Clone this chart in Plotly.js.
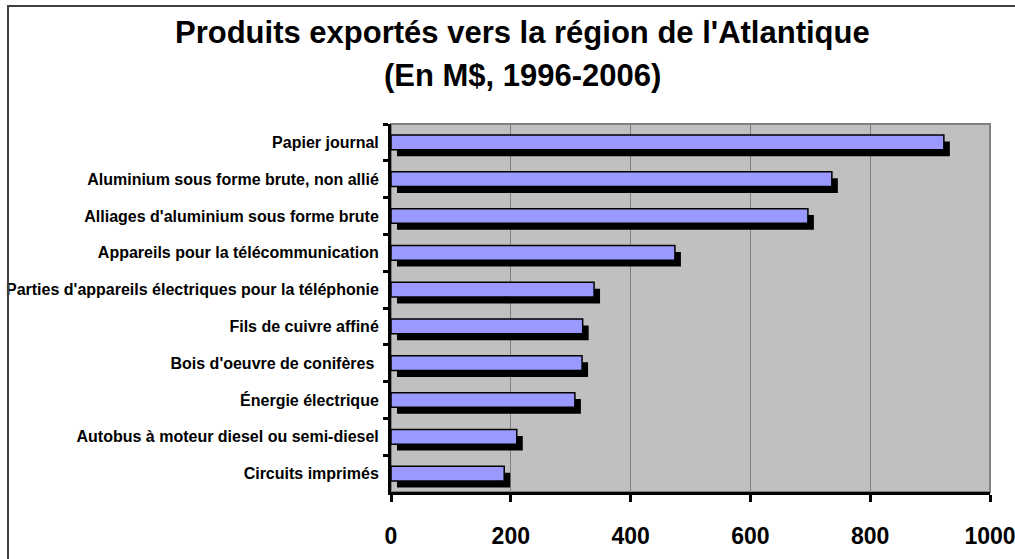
<!DOCTYPE html>
<html>
<head>
<meta charset="utf-8">
<script src="https://cdn.plot.ly/plotly-3.0.1.min.js"></script>
<style>
  body { margin: 0; background: #fff; }
  #wrap { position: relative; width: 1015px; height: 559px; }
  #chart { position: absolute; left: 0; top: 0; width: 1015px; height: 559px; }
  #frame { position: absolute; left: 7px; top: 5px; width: 1020px; height: 570px;
           border-left: 2px solid #404040; border-top: 2px solid #404040; pointer-events: none; }
</style>
</head>
<body>
<div id="wrap">
  <div id="chart"></div>
  <div id="frame"></div>
</div>
<script>
// categories, top to bottom as shown
const products = [
    "Papier journal",
    "Aluminium sous forme brute, non allié",
    "Alliages d'aluminium sous forme brute",
    "Appareils pour la télécommunication",
    "Parties d'appareils électriques pour la téléphonie",
    "Fils de cuivre affiné",
    "Bois d'oeuvre de conifères ",
    "Énergie électrique",
    "Autobus à moteur diesel ou semi-diesel",
    "Circuits imprimés"
];
// exports, millions of dollars
const exportsMD = [923, 736, 696, 474, 339, 320, 319, 307, 210, 189];
const xTicks = [0, 200, 400, 600, 800, 1000];

const sans = "'Liberation Sans', Arial, sans-serif";

document.addEventListener("DOMContentLoaded", function () {
    drawChart();
});

function drawChart() {
    // excel-style drop shadow: same bars, nudged right and down
    let shadow = {
        type: "bar",
        orientation: "h",
        y: products,
        x: exportsMD,
        base: 10,
        width: 0.4,
        offset: -0.2 + 0.175,
        marker: { color: "#000000", line: { width: 0 } },
        hoverinfo: "skip"
    };
    let bars = {
        type: "bar",
        orientation: "h",
        y: products,
        x: exportsMD,
        width: 0.4,
        offset: -0.2,
        marker: { color: "#9999FF", line: { color: "#000000", width: 1.5 } }
    };

    let layout = {
        width: 1015,
        height: 559,
        margin: { l: 391, r: 25, t: 124, b: 67 },
        paper_bgcolor: "#ffffff",
        plot_bgcolor: "rgba(0,0,0,0)",
        barmode: "overlay",
        showlegend: false,
        xaxis: {
            range: [0, 1000],
            tickvals: xTicks,
            ticktext: xTicks.map(String),
            showgrid: true,
            gridcolor: "#808080",
            gridwidth: 1,
            zeroline: false,
            showline: true,
            linecolor: "#000000",
            linewidth: 3,
            ticks: "outside",
            ticklen: 7,
            tickwidth: 3,
            tickcolor: "#000000",
            ticklabelstandoff: 14,
            ticklabeloverflow: "allow",
            tickfont: { family: sans, size: 23, color: "#000000", weight: "bold" }
        },
        yaxis: {
            type: "category",
            categoryorder: "array",
            categoryarray: products,
            range: [products.length - 0.5, -0.5],
            showgrid: false,
            zeroline: false,
            showline: true,
            linecolor: "#000000",
            linewidth: 3,
            ticks: "outside",
            tickson: "boundaries",
            ticklen: 5,
            tickwidth: 3,
            tickcolor: "#000000",
            ticklabelstandoff: 6,
            ticklabeloverflow: "allow",
            tickfont: { family: sans, size: 16, color: "#000000", weight: "bold" }
        },
        shapes: [{
            type: "rect", xref: "paper", yref: "paper",
            x0: 0, x1: 1, y0: 0, y1: 1,
            layer: "below",
            fillcolor: "#C0C0C0",
            line: { color: "#808080", width: 2 }
        }],
        annotations: [
            {
                text: "Produits exportés vers la région de l'Atlantique",
                xref: "paper", yref: "paper", x: 0.22, y: 1.25,
                xanchor: "center", yanchor: "middle", showarrow: false,
                font: { family: sans, size: 31, color: "#000000", weight: "bold" }
            },
            {
                text: "(En M$, 1996-2006)",
                xref: "paper", yref: "paper", x: 0.22, y: 1.133,
                xanchor: "center", yanchor: "middle", showarrow: false,
                font: { family: sans, size: 31, color: "#000000", weight: "bold" }
            }
        ]
    };

    Plotly.newPlot("chart", [shadow, bars], layout, { displayModeBar: false, staticPlot: true });
}
</script>
</body>
</html>
